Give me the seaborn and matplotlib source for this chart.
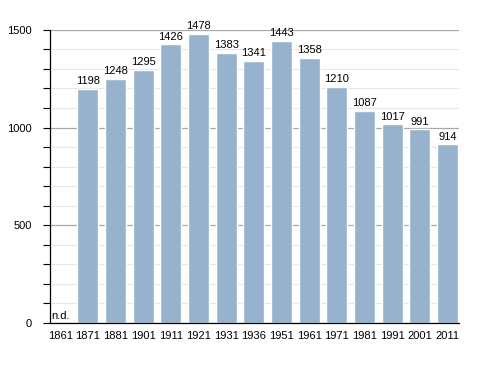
import numpy as np
import pandas as pd
import matplotlib
matplotlib.use("Agg")
import matplotlib.pyplot as plt
import seaborn as sns
from matplotlib.ticker import MultipleLocator

# Dati censimenti
years = ["1861", "1871", "1881", "1901", "1911", "1921", "1931", "1936",
         "1951", "1961", "1971", "1981", "1991", "2001", "2011"]
population = [np.nan, 1198, 1248, 1295, 1426, 1478, 1383, 1341,
              1443, 1358, 1210, 1087, 1017, 991, 914]
missing_label = "n.d."

df = pd.DataFrame({"year": years, "pop": population})

sns.set_style("white")
plt.rcParams["font.family"] = ["Liberation Sans", "DejaVu Sans"]
plt.rcParams["text.color"] = "black"
plt.rcParams["xtick.color"] = "black"
plt.rcParams["ytick.color"] = "black"

fig = plt.figure(figsize=(4.88, 3.73), dpi=100)
ax = fig.add_axes([0.1025, 0.134, 0.838, 0.786])

sns.barplot(data=df, x="year", y="pop", order=years, color="#97b2cd",
            saturation=1, width=0.76, ax=ax)
for p in ax.patches:
    p.set_zorder(3)

# griglia: minori ogni 100, maggiori ogni 500
ax.set_ylim(0, 1500)
ax.set_xlim(-0.37, 14.41)
ax.yaxis.set_major_locator(MultipleLocator(500))
ax.yaxis.set_minor_locator(MultipleLocator(100))
ax.set_axisbelow(True)
ax.grid(axis="y", which="minor", color="#e6e6e6", lw=0.8)
ax.grid(axis="y", which="major", color="#a8a8a8", lw=0.9)

for side in ["top", "right"]:
    ax.spines[side].set_visible(False)
for side in ["left", "bottom"]:
    ax.spines[side].set_color("black")
    ax.spines[side].set_linewidth(0.9)
    ax.spines[side].set_zorder(4)

ax.tick_params(axis="y", which="both", left=True, length=5, width=0.8,
               labelsize=8, pad=8)
ax.tick_params(axis="x", bottom=False, labelsize=8, pad=2)
ax.set_xlabel("")
ax.set_ylabel("")

# etichette dei valori
for i, v in enumerate(population):
    if np.isnan(v):
        ax.text(i - 0.33, 12, missing_label, ha="left", va="bottom", fontsize=8)
    else:
        ax.text(i, v + 14, f"{int(v)}", ha="center", va="bottom", fontsize=8)

fig.savefig("out.png", dpi=100)
